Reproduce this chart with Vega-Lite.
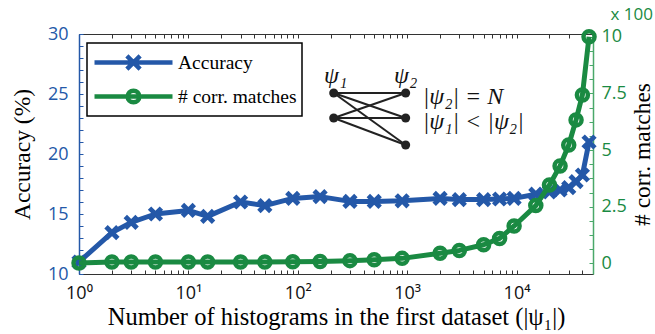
{
  "$schema": "https://vega.github.io/schema/vega-lite/v6.json",
  "width": 514,
  "height": 240,
  "autosize": {"type": "none"},
  "padding": {"left": 79, "top": 34, "right": 62, "bottom": 60},
  "background": "white",
  "config": {"view": {"stroke": null}, "axis": {"grid": false, "labelOverlap": false, "labelFlush": false}},
  "title": {"text": "x 100", "anchor": "end", "frame": "group", "align": "right", "dx": 60, "dy": 14, "offset": 12, "color": "#1a8a42", "font": "Open Sans", "fontSize": 17, "fontWeight": "normal"},
  "datasets": {
    "series": [
      {"series": "Accuracy", "N": 1, "value": 11.0},
      {"series": "Accuracy", "N": 2, "value": 13.45},
      {"series": "Accuracy", "N": 3, "value": 14.3},
      {"series": "Accuracy", "N": 5, "value": 15.0},
      {"series": "Accuracy", "N": 10, "value": 15.3},
      {"series": "Accuracy", "N": 15, "value": 14.8},
      {"series": "Accuracy", "N": 30, "value": 16.0},
      {"series": "Accuracy", "N": 50, "value": 15.7},
      {"series": "Accuracy", "N": 90, "value": 16.3},
      {"series": "Accuracy", "N": 160, "value": 16.45},
      {"series": "Accuracy", "N": 300, "value": 16.05},
      {"series": "Accuracy", "N": 500, "value": 16.05},
      {"series": "Accuracy", "N": 900, "value": 16.1},
      {"series": "Accuracy", "N": 2000, "value": 16.3},
      {"series": "Accuracy", "N": 3000, "value": 16.2},
      {"series": "Accuracy", "N": 5000, "value": 16.2},
      {"series": "Accuracy", "N": 7000, "value": 16.25},
      {"series": "Accuracy", "N": 9500, "value": 16.3},
      {"series": "Accuracy", "N": 15000, "value": 16.65},
      {"series": "Accuracy", "N": 20000, "value": 16.85},
      {"series": "Accuracy", "N": 25000, "value": 17.0},
      {"series": "Accuracy", "N": 30000, "value": 17.2},
      {"series": "Accuracy", "N": 35000, "value": 17.7},
      {"series": "Accuracy", "N": 40000, "value": 18.25},
      {"series": "Accuracy", "N": 46000, "value": 21.0},
      {"series": "# corr. matches", "N": 1, "value": 2},
      {"series": "# corr. matches", "N": 2, "value": 6},
      {"series": "# corr. matches", "N": 3, "value": 6},
      {"series": "# corr. matches", "N": 5, "value": 6},
      {"series": "# corr. matches", "N": 10, "value": 6},
      {"series": "# corr. matches", "N": 15, "value": 6},
      {"series": "# corr. matches", "N": 30, "value": 6},
      {"series": "# corr. matches", "N": 50, "value": 6},
      {"series": "# corr. matches", "N": 90, "value": 7},
      {"series": "# corr. matches", "N": 160, "value": 8},
      {"series": "# corr. matches", "N": 300, "value": 12},
      {"series": "# corr. matches", "N": 500, "value": 16},
      {"series": "# corr. matches", "N": 900, "value": 22},
      {"series": "# corr. matches", "N": 2000, "value": 45},
      {"series": "# corr. matches", "N": 3000, "value": 57},
      {"series": "# corr. matches", "N": 5000, "value": 82},
      {"series": "# corr. matches", "N": 7000, "value": 110},
      {"series": "# corr. matches", "N": 9500, "value": 165},
      {"series": "# corr. matches", "N": 15000, "value": 255},
      {"series": "# corr. matches", "N": 20000, "value": 346},
      {"series": "# corr. matches", "N": 25000, "value": 430},
      {"series": "# corr. matches", "N": 30000, "value": 522},
      {"series": "# corr. matches", "N": 35000, "value": 633},
      {"series": "# corr. matches", "N": 40000, "value": 743},
      {"series": "# corr. matches", "N": 46000, "value": 1000}
    ],
    "nodes": [
      {"N": 213, "value": 25.08},
      {"N": 213, "value": 23.0},
      {"N": 969, "value": 25.08},
      {"N": 969, "value": 23.0},
      {"N": 969, "value": 20.75}
    ],
    "edges": [
      {"N": 213, "value": 25.08, "N2": 969, "value2": 25.08},
      {"N": 213, "value": 25.08, "N2": 969, "value2": 23.0},
      {"N": 213, "value": 25.08, "N2": 969, "value2": 20.75},
      {"N": 213, "value": 23.0, "N2": 969, "value2": 25.08},
      {"N": 213, "value": 23.0, "N2": 969, "value2": 23.0},
      {"N": 213, "value": 23.0, "N2": 969, "value2": 20.75}
    ],
    "labels": [
      {"N": 222, "value": 26.5, "text": "ψ₁"},
      {"N": 969, "value": 26.5, "text": "ψ₂"}
    ],
    "formulas": [
      {"N": 1386, "value": 24.75, "text": "|ψ₂|  =  N"},
      {"N": 1386, "value": 22.67, "text": "|ψ₁|  <  |ψ₂|"}
    ]
  },
  "layer": [
    {
      "encoding": {
        "x": {
          "field": "N", "type": "quantitative",
          "scale": {"type": "log", "domain": [1, 50000], "nice": false},
          "axis": {
            "orient": "bottom",
            "title": "Number of histograms in the first dataset (|ψ₁|)",
            "values": [1,2,3,4,5,6,7,8,9,10,20,30,40,50,60,70,80,90,100,200,300,400,500,600,700,800,900,1000,2000,3000,4000,5000,6000,7000,8000,9000,10000,20000,30000,40000,50000],
            "labelExpr": "datum.value == 1 ? '10⁰' : datum.value == 10 ? '10¹' : datum.value == 100 ? '10²' : datum.value == 1000 ? '10³' : datum.value == 10000 ? '10⁴' : ''",
            "labelOverlap": false, "labelFlush": false,
            "domainColor": "#333333", "domainWidth": 1.2,
            "tickColor": "#333333", "tickSize": -4, "tickWidth": 1,
            "labelColor": "#111111", "labelFont": "Open Sans", "labelFontSize": 18, "labelPadding": 14,
            "titleFont": "Liberation Serif", "titleFontSize": 24.5, "titleFontWeight": "normal", "titleColor": "#000000", "titlePadding": 3
          }
        },
        "y": {
          "field": "value", "type": "quantitative",
          "scale": {"domain": [10, 30], "nice": false, "zero": false},
          "axis": {
            "orient": "left",
            "title": "Accuracy (%)",
            "values": [10,11,12,13,14,15,16,17,18,19,20,21,22,23,24,25,26,27,28,29,30],
            "labelExpr": "datum.value == 10 ? '10' : datum.value == 15 ? '15' : datum.value == 20 ? '20' : datum.value == 25 ? '25' : datum.value == 30 ? '30' : ''",
            "labelOverlap": false, "labelFlush": false,
            "domainColor": "#2458a8", "domainWidth": 1.5,
            "tickColor": "#2458a8", "tickSize": -4, "tickWidth": 1,
            "labelColor": "#2458a8", "labelFont": "Open Sans", "labelFontSize": 18, "labelPadding": 15,
            "titleFont": "Liberation Serif", "titleFontSize": 23.5, "titleFontWeight": "normal", "titleColor": "#000000", "titlePadding": 13
          }
        }
      },
      "layer": [
        {
          "data": {"name": "series"},
          "transform": [{"filter": "datum.series === 'Accuracy'"}],
          "encoding": {
            "color": {
              "field": "series", "type": "nominal",
              "scale": {"domain": ["Accuracy", "# corr. matches"], "range": ["#2458a8", "#1a8a42"]},
              "legend": {
                "orient": "none", "legendX": 8, "legendY": 9,
                "title": null,
                "strokeColor": "#000000", "fillColor": "#ffffff", "padding": 5,
                "labelFont": "Liberation Serif", "labelFontSize": 19.5, "labelColor": "#000000", "labelOffset": 3,
                "symbolSize": 6084, "symbolStrokeWidth": 4.5, "clipHeight": 29, "rowPadding": 5,
                "encode": {
                  "legend": {"update": {"strokeWidth": {"value": 1.5}}},
                  "symbols": {"update": {
                    "shape": {"signal": "datum.value === 'Accuracy' ? 'M-1,0H1M-0.17,-0.17L0.17,0.17M-0.17,0.17L0.17,-0.17' : 'M-1,0H1M0.15,0A0.15,0.15,0,1,1,-0.15,0A0.15,0.15,0,1,1,0.15,0Z'"},
                    "fill": {"value": "transparent"},
                    "strokeWidth": {"value": 4.5}
                  }}
                }
              }
            }
          },
          "layer": [
            {"mark": {"type": "line", "strokeWidth": 5, "strokeJoin": "round"}},
            {"mark": {"type": "point", "shape": "M-1,-1L1,1M-1,1L1,-1", "filled": false, "size": 140, "strokeWidth": 4.8, "opacity": 1}}
          ]
        },
        {
          "data": {"name": "edges"},
          "mark": {"type": "rule", "color": "#222222", "strokeWidth": 2},
          "encoding": {
            "x2": {"field": "N2"},
            "y2": {"field": "value2"}
          }
        },
        {
          "data": {"name": "nodes"},
          "mark": {"type": "point", "shape": "circle", "filled": true, "color": "#222222", "size": 81, "opacity": 1}
        },
        {
          "data": {"name": "labels"},
          "mark": {"type": "text", "font": "Liberation Serif", "fontStyle": "italic", "fontSize": 24, "color": "#111111", "align": "center", "baseline": "middle"},
          "encoding": {"text": {"field": "text"}}
        },
        {
          "data": {"name": "formulas"},
          "mark": {"type": "text", "font": "Liberation Serif", "fontStyle": "italic", "fontSize": 24, "color": "#111111", "align": "left", "baseline": "middle"},
          "encoding": {"text": {"field": "text"}}
        }
      ]
    },
    {
      "data": {"name": "series"},
      "transform": [{"filter": "datum.series === '# corr. matches'"}],
      "encoding": {
        "x": {
          "field": "N", "type": "quantitative",
          "scale": {"type": "log", "domain": [1, 50000], "nice": false},
          "axis": {
            "orient": "top", "title": null, "labels": false,
            "values": [1,2,3,4,5,6,7,8,9,10,20,30,40,50,60,70,80,90,100,200,300,400,500,600,700,800,900,1000,2000,3000,4000,5000,6000,7000,8000,9000,10000,20000,30000,40000,50000],
            "domainColor": "#333333", "domainWidth": 1.2,
            "tickColor": "#333333", "tickSize": -4, "tickWidth": 1
          }
        },
        "y": {
          "field": "value", "type": "quantitative",
          "scale": {"domain": [-47, 1012], "nice": false, "zero": false},
          "axis": {
            "orient": "right",
            "title": "# corr. matches",
            "values": [0,62.5,125,187.5,250,312.5,375,437.5,500,562.5,625,687.5,750,812.5,875,937.5,1000],
            "labelExpr": "datum.value == 0 ? '0' : datum.value == 250 ? '2.5' : datum.value == 500 ? '5' : datum.value == 750 ? '7.5' : datum.value == 1000 ? '10' : ''",
            "labelOverlap": false, "labelFlush": false,
            "domainColor": "#4aa86a", "domainWidth": 1.5,
            "tickColor": "#4aa86a", "tickSize": -4, "tickWidth": 1,
            "labelColor": "#1a8a42", "labelFont": "Open Sans", "labelFontSize": 18, "labelPadding": 12,
            "titleFont": "Liberation Serif", "titleFontSize": 23.5, "titleFontWeight": "normal", "titleColor": "#000000",
            "titleAngle": 270, "titleBaseline": "top", "titlePadding": 4
          }
        },
        "color": {"field": "series", "type": "nominal"}
      },
      "layer": [
        {"mark": {"type": "line", "strokeWidth": 5, "strokeJoin": "round"}},
        {"mark": {"type": "point", "shape": "circle", "filled": false, "size": 121, "strokeWidth": 4.5, "opacity": 1}}
      ]
    }
  ],
  "resolve": {"scale": {"y": "independent"}, "axis": {"y": "independent", "x": "independent"}}
}
